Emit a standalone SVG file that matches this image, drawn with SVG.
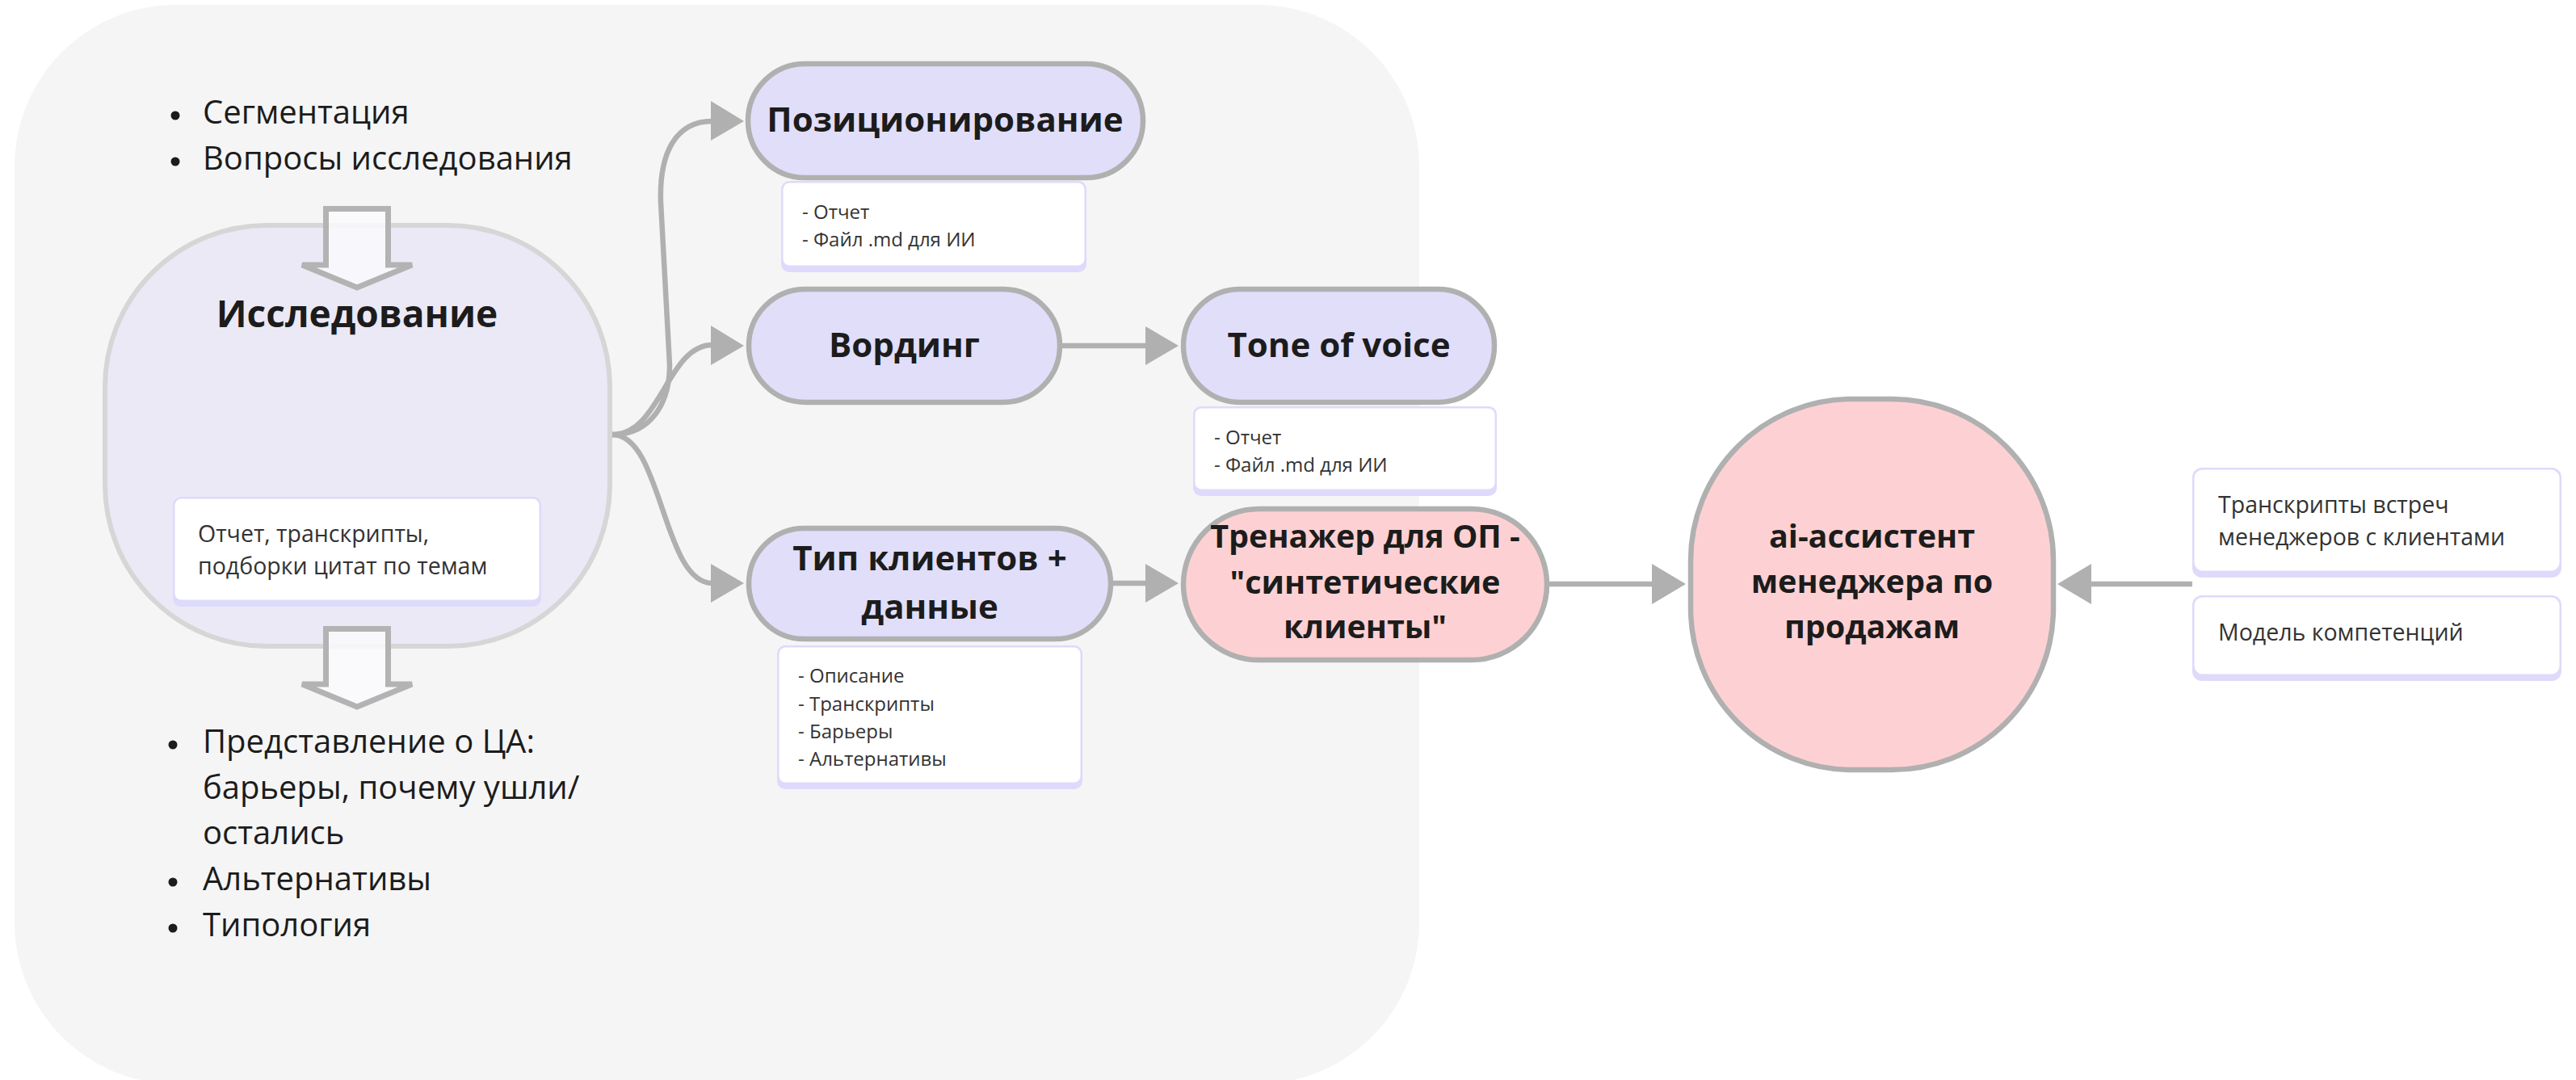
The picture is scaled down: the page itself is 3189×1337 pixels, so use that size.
<svg xmlns="http://www.w3.org/2000/svg" width="3189" height="1337" viewBox="0 0 3189 1337">
<defs>
<style>
.title{font-family:"Open Sans","Noto Sans","DejaVu Sans",sans-serif;font-weight:700;font-size:42px;fill:#1c1c1c;text-anchor:middle}
.big{font-size:46px}
.pt{font-size:39.5px}
.bul{font-family:"Open Sans","Noto Sans","DejaVu Sans",sans-serif;font-size:40px;fill:#1c1c1c}
.note{font-family:"Open Sans","Noto Sans","DejaVu Sans",sans-serif;font-size:24px;fill:#333}
.note2{font-family:"Open Sans","Noto Sans","DejaVu Sans",sans-serif;font-size:28.5px;fill:#333}
.pill{fill:#e1defa;stroke:#b0b0b0;stroke-width:6.5}
.pink{fill:#fdd1d3;stroke:#b0b0b0;stroke-width:6.5}
.nb{fill:#dedafb}
.ni{fill:#ffffff}
.edge{fill:none;stroke:#b0b0b0;stroke-width:6.5}
.ah{fill:#b0b0b0}
.blk{fill:#fafafd;fill-opacity:0.85;stroke:#b3b3b3;stroke-width:7;stroke-linejoin:miter}
</style>
</defs>
<rect x="0" y="0" width="3189" height="1337" fill="#ffffff"/>
<rect id="background" x="18" y="6" width="1739" height="1336" rx="200" ry="200" fill="#f5f5f5"/>

<g id="bullets-top">
<circle cx="217" cy="143" r="5.5" fill="#1c1c1c"/>
<text class="bul" x="251" y="153">Сегментация</text>
<circle cx="217" cy="200" r="5.5" fill="#1c1c1c"/>
<text class="bul" x="251" y="210">Вопросы исследования</text>
</g>

<g id="research">
<rect x="130" y="279" width="625" height="521" rx="200" ry="200" fill="#ebe9f6" stroke="#d6d6d6" stroke-width="6"/>
<text class="title big" x="442" y="405">Исследование</text>
<rect class="nb" x="214" y="615" width="456" height="136" rx="10"/>
<rect class="ni" x="216.5" y="617.5" width="451" height="125" rx="8"/>
<text class="note2" x="245" y="671">Отчет, транскрипты,</text>
<text class="note2" x="245" y="711">подборки цитат по темам</text>
</g>

<g id="arrow-in">
<polygon class="blk" points="403.5,258.5 480.5,258.5 480.5,328 510,328 442,356 374,328 403.5,328"/>
</g>
<g id="arrow-out">
<polygon class="blk" points="403.5,778.5 480.5,778.5 480.5,847 510,847 442,875 374,847 403.5,847"/>
</g>

<g id="bullets-bottom">
<circle cx="214" cy="922" r="5.5" fill="#1c1c1c"/>
<text class="bul" x="251" y="932">Представление о ЦА:</text>
<text class="bul" x="251" y="989">барьеры, почему ушли/</text>
<text class="bul" x="251" y="1045">остались</text>
<circle cx="214" cy="1092" r="5.5" fill="#1c1c1c"/>
<text class="bul" x="251" y="1102">Альтернативы</text>
<circle cx="214" cy="1149" r="5.5" fill="#1c1c1c"/>
<text class="bul" x="251" y="1159">Типология</text>
</g>

<g id="connectors">
<path class="edge" d="M758,538 C805,538 829,500 829,452 L818,250 C816,190 836,150 882,150"/>
<polygon class="ah" points="880,125 921,150 880,174"/>
<path class="edge" d="M758,538 C818,538 826,427 882,427"/>
<polygon class="ah" points="880,403 921,428 880,452"/>
<path class="edge" d="M758,538 C820,538 820,722 882,722"/>
<polygon class="ah" points="880,698 921,722 880,746"/>
<line class="edge" x1="1315" y1="428" x2="1420" y2="428"/>
<polygon class="ah" points="1418,404 1459,428 1418,452"/>
<line class="edge" x1="1378" y1="722" x2="1420" y2="722"/>
<polygon class="ah" points="1418,698 1459,722 1418,746"/>
<line class="edge" x1="1918" y1="723" x2="2047" y2="723"/>
<polygon class="ah" points="2045,698 2087,723 2045,748"/>
<line class="edge" x1="2714" y1="723" x2="2587" y2="723"/>
<polygon class="ah" points="2589,698 2547,723 2589,748"/>
</g>

<g id="positioning">
<rect class="pill" x="926" y="79" width="489" height="141" rx="70.5"/>
<text class="title" x="1170" y="163">Позиционирование</text>
<rect class="nb" x="967" y="224" width="378" height="113" rx="10"/>
<rect class="ni" x="969.5" y="226.5" width="373" height="102" rx="8"/>
<text class="note" x="993" y="271">- Отчет</text>
<text class="note" x="993" y="305">- Файл .md для ИИ</text>
</g>

<g id="wording">
<rect class="pill" x="927" y="358" width="385" height="140" rx="70"/>
<text class="title" x="1119.5" y="442">Вординг</text>
</g>

<g id="tone">
<rect class="pill" x="1465" y="358" width="385" height="140" rx="70"/>
<text class="title" x="1657.5" y="442">Tone of voice</text>
<rect class="nb" x="1477" y="503" width="376" height="111" rx="10"/>
<rect class="ni" x="1479.5" y="505.5" width="371" height="100" rx="8"/>
<text class="note" x="1503" y="550">- Отчет</text>
<text class="note" x="1503" y="584">- Файл .md для ИИ</text>
</g>

<g id="clients">
<rect class="pill" x="927" y="654" width="448" height="137" rx="68.5"/>
<text class="title" x="1151" y="706">Тип клиентов +</text>
<text class="title" x="1151" y="766">данные</text>
<rect class="nb" x="962" y="799" width="378" height="178" rx="10"/>
<rect class="ni" x="964.5" y="801.5" width="373" height="167" rx="8"/>
<text class="note" x="988" y="845">- Описание</text>
<text class="note" x="988" y="880">- Транскрипты</text>
<text class="note" x="988" y="914">- Барьеры</text>
<text class="note" x="988" y="948">- Альтернативы</text>
</g>

<g id="trainer">
<rect class="pink" x="1465" y="630" width="450" height="187" rx="93.5"/>
<text class="title pt" x="1690" y="678">Тренажер для ОП -</text>
<text class="title pt" x="1690" y="735">"синтетические</text>
<text class="title pt" x="1690" y="790">клиенты"</text>
</g>

<g id="assistant">
<rect class="pink" x="2093" y="494" width="449" height="459" rx="200" ry="200"/>
<text class="title pt" x="2317.5" y="678">ai-ассистент</text>
<text class="title pt" x="2317.5" y="734">менеджера по</text>
<text class="title pt" x="2317.5" y="790">продажам</text>
</g>

<g id="transcripts">
<rect class="nb" x="2714" y="579" width="457" height="136" rx="12"/>
<rect class="ni" x="2716.5" y="581.5" width="452" height="125" rx="10"/>
<text class="note2" x="2746" y="635">Транскрипты встреч</text>
<text class="note2" x="2746" y="675">менеджеров с клиентами</text>
</g>

<g id="competencies">
<rect class="nb" x="2714" y="737" width="457" height="106" rx="12"/>
<rect class="ni" x="2716.5" y="739.5" width="452" height="95" rx="10"/>
<text class="note2" x="2746" y="793">Модель компетенций</text>
</g>
</svg>
